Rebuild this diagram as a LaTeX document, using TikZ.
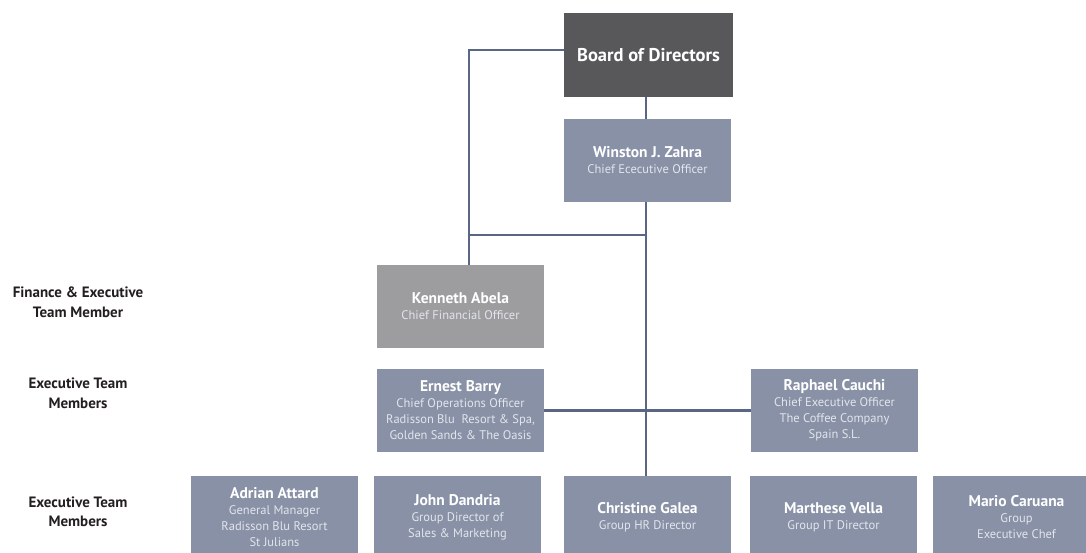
\documentclass[tikz,border=0pt]{standalone}
\usepackage{fontspec}
\setmainfont{PT Sans}
\usetikzlibrary{positioning}

\definecolor{boardgray}{HTML}{58585A}
\definecolor{slate}{HTML}{8891A6}
\definecolor{cfogray}{HTML}{9D9D9F}
\definecolor{linkblue}{HTML}{5A6784}
\definecolor{subtext}{HTML}{E2E5EC}
\definecolor{labeltext}{HTML}{231F20}

\newcommand{\nm}[1]{{\color{white}\fontsize{15.5}{16}\bfseries #1}}

\begin{document}
\begin{tikzpicture}[x=1pt,y=-1pt,
    box/.style={fill=slate, minimum width=167pt, minimum height=83pt, inner sep=0pt,
      align=center, text=subtext, font=\fontsize{12.5}{16}\selectfont},
    conn/.style={draw=linkblue, line width=2.6pt},
    rowlabel/.style={align=center, text=labeltext, font=\fontsize{15}{19.5}\selectfont\bfseries}]
    \useasboundingbox (0,0) rectangle (1086,553);

    % top of the tree
    \node[box, fill=boardgray, minimum width=169pt, minimum height=84pt,
      font=\fontsize{18.5}{20}\selectfont\bfseries, text=white](board) at (648.5,55){Board of Directors};
    \node[box](ceo) at (647.5,160.5){\nm{Winston J. Zahra}\\Chief Ececutive Officer};
    \node[box, fill=cfogray](cfo) at (460.5,306.5){\nm{Kenneth Abela}\\Chief Financial Officer};

    % executive team
    \node[box](coo) at (460.5,410.5){\nm{Ernest Barry}\\Chief Operations Officer\\Radisson Blu\ \ Resort \& Spa,\\Golden Sands \& The Oasis};
    \node[box](cafe) at (834.5,410.5){\nm{Raphael Cauchi}\\Chief Executive Officer\\The Coffee Company\\Spain S.L.};

    % bottom row
    \node[box](gm) at (274.5,517.5){\nm{Adrian Attard}\\General Manager\\Radisson Blu Resort\\St Julians};
    \node[box](sales) at (457.5,517.5){\nm{John Dandria}\\Group Director of\\Sales \& Marketing};
    \node[box](hr) at (647.5,517.5){\nm{Christine Galea}\\Group HR Director};
    \node[box](it) at (833.5,517.5){\nm{Marthese Vella}\\Group IT Director};
    \node[box](chef) at (1016.5,517.5){\nm{Mario Caruana}\\Group\\Executive Chef};

    % row labels
    \node[rowlabel](lfin) at (78,302){Finance \& Executive\\Team Member};
    \node[rowlabel](lexec) at (78,393.5){Executive Team\\Members};
    \node[rowlabel](lteam) at (78,512){Executive Team\\Members};

    % connectors
    \coordinate (split) at (646,235);
    \coordinate[xshift=8.5pt] (cfotop) at (cfo.north);
    \draw[conn] (board.south -| split) -- (ceo.north -| split);
    \draw[conn] (ceo.south -| split) -- (hr.north -| split);
    \draw[conn] ([yshift=5pt]board.west) -| (cfotop);
    \draw[conn] (split) -- (split -| cfotop);
    \draw[conn] (coo.east) -- (cafe.west);
\end{tikzpicture}
\end{document}
